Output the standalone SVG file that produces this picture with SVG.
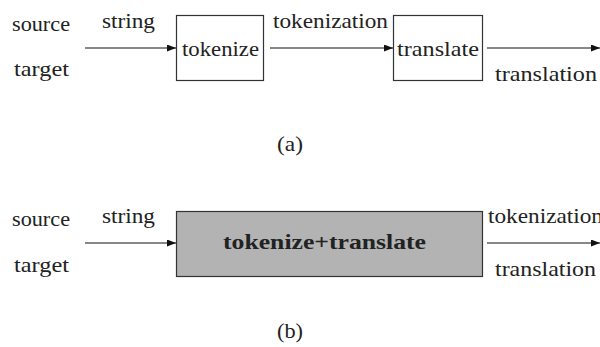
<svg xmlns="http://www.w3.org/2000/svg" width="600" height="347" viewBox="0 0 600 347">
<style>
text{font-family:'Liberation Serif',serif !important;font-size:21px;fill:#222}
.b{font-weight:bold}
.box{fill:#fff;stroke:#333;stroke-width:1.2}
.gbox{fill:#b3b3b3;stroke:#333;stroke-width:1.2}
.c{stroke:#111;stroke-width:1.2;fill:none}
</style>
<defs>
<marker id="ah" markerWidth="9" markerHeight="7" refX="9" refY="3.5" orient="auto" markerUnits="userSpaceOnUse">
<path d="M0,0 L9,3.5 L0,7 z" fill="#111"/>
</marker>
</defs>
<rect width="600" height="347" fill="#fff"/>
<g id="labels">
<text style="font-family:'Liberation Serif',serif" x="12" y="31" textLength="58" lengthAdjust="spacingAndGlyphs">source</text>
<text style="font-family:'Liberation Serif',serif" x="14" y="76" textLength="55" lengthAdjust="spacingAndGlyphs">target</text>
<text style="font-family:'Liberation Serif',serif" x="12" y="226" textLength="58" lengthAdjust="spacingAndGlyphs">source</text>
<text style="font-family:'Liberation Serif',serif" x="14" y="272" textLength="55" lengthAdjust="spacingAndGlyphs">target</text>
<text style="font-family:'Liberation Serif',serif" x="277" y="151" textLength="26" lengthAdjust="spacingAndGlyphs">(a)</text>
<text style="font-family:'Liberation Serif',serif" x="277" y="338" textLength="26" lengthAdjust="spacingAndGlyphs">(b)</text>
</g>
<g id="tokenize">
<rect class="box" x="176.5" y="15.5" width="87" height="65"/>
<text style="font-family:'Liberation Serif',serif" x="182" y="56" textLength="77" lengthAdjust="spacingAndGlyphs">tokenize</text>
</g>
<g id="translate">
<rect class="box" x="393.5" y="15.5" width="89" height="65"/>
<text style="font-family:'Liberation Serif',serif" x="397" y="56" textLength="82" lengthAdjust="spacingAndGlyphs">translate</text>
</g>
<g id="tokenize_translate">
<rect class="gbox" x="176.5" y="211.5" width="306" height="65"/>
<text class="b" style="font-family:'Liberation Serif',serif" x="223" y="249" textLength="203" lengthAdjust="spacingAndGlyphs">tokenize+translate</text>
</g>
<g id="connectors">
<line class="c" x1="85" y1="48" x2="176" y2="48" marker-end="url(#ah)"/>
<line class="c" x1="270" y1="48" x2="393" y2="48" marker-end="url(#ah)"/>
<line class="c" x1="487" y1="48" x2="600" y2="48" marker-end="url(#ah)"/>
<line class="c" x1="85" y1="243" x2="176" y2="243" marker-end="url(#ah)"/>
<line class="c" x1="487" y1="243" x2="600" y2="243" marker-end="url(#ah)"/>
<text style="font-family:'Liberation Serif',serif" x="102" y="28" textLength="53" lengthAdjust="spacingAndGlyphs">string</text>
<text style="font-family:'Liberation Serif',serif" x="273" y="28" textLength="115" lengthAdjust="spacingAndGlyphs">tokenization</text>
<text style="font-family:'Liberation Serif',serif" x="495" y="81" textLength="102" lengthAdjust="spacingAndGlyphs">translation</text>
<text style="font-family:'Liberation Serif',serif" x="102" y="223" textLength="53" lengthAdjust="spacingAndGlyphs">string</text>
<text style="font-family:'Liberation Serif',serif" x="488" y="223" textLength="115" lengthAdjust="spacingAndGlyphs">tokenization</text>
<text style="font-family:'Liberation Serif',serif" x="495" y="276" textLength="101" lengthAdjust="spacingAndGlyphs">translation</text>
</g>
</svg>
